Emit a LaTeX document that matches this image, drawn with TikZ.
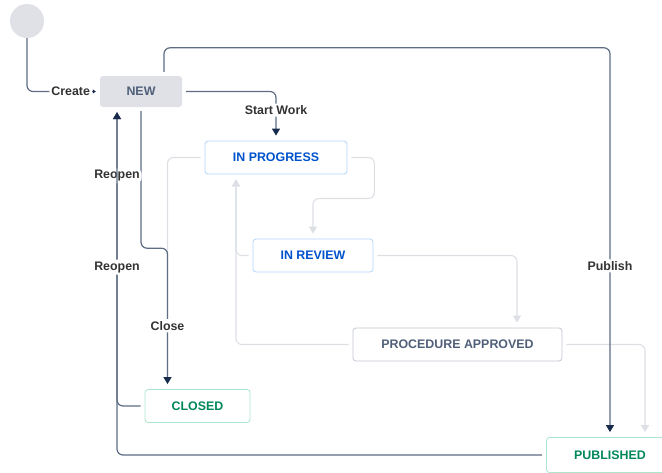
\documentclass[tikz,border=0pt]{standalone}
\usepackage{fontspec}
\setmainfont{Liberation Sans}
\usepackage{xcolor}
\definecolor{navy}{HTML}{172B4D}
\definecolor{slate}{HTML}{5E6C84}
\definecolor{slatetx}{HTML}{505F79}
\definecolor{faded}{HTML}{DCDFE4}
\definecolor{newgray}{HTML}{DFE1E6}
\definecolor{bluebd}{HTML}{B3D4FF}
\definecolor{bluetx}{HTML}{0052CC}
\definecolor{greenbd}{HTML}{ABE5CC}
\definecolor{greentx}{HTML}{00875A}
\definecolor{graybd}{HTML}{C1C7D0}
\definecolor{labeltx}{HTML}{333333}
\usetikzlibrary{arrows.meta,positioning}
\tikzset{
    startnode/.style={
    circle,fill=newgray,minimum size=34pt,inner sep=0pt
    },
    newstate/.style={
    rectangle,rounded corners=3pt,fill=newgray,text=slatetx,minimum width=82pt,minimum height=31pt
    },
    bluestate/.style={
    rectangle,rounded corners=3pt,draw=bluebd,line width=0.8pt,text=bluetx,minimum height=33pt
    },
    greenstate/.style={
    rectangle,rounded corners=3pt,draw=greenbd,line width=0.8pt,text=greentx,minimum height=33pt
    },
    graystate/.style={
    rectangle,rounded corners=3pt,draw=graybd,line width=0.8pt,text=slatetx,minimum height=33pt
    },
  trans/.style={draw=slate, line width=1.2pt, rounded corners=6pt, shorten <=4pt, shorten >=5pt, -{Triangle[width=8pt,length=7pt,color=navy]}},
  ftrans/.style={draw=faded, line width=1.1pt, rounded corners=6pt, shorten <=4pt, shorten >=5pt, -{Triangle[width=8pt,length=7pt,color=faded]}},
  lbl/.style={fill=white, text=labeltx, inner sep=2pt},
}

\begin{document}
\begin{tikzpicture}[x=1pt, y=-1pt, font=\bfseries\fontsize{12.4}{14}\selectfont]
   \useasboundingbox (0,0) rectangle (662,472);

   \node[startnode] (start) at (27,21) {};
   \node[newstate] (new) at (141,91.5) {NEW};
   \node[bluestate, minimum width=142pt] (inprog) at (276,157.5) {IN PROGRESS};
   \node[bluestate, minimum width=120pt] (inreview) at (313,255.5) {IN REVIEW};
   \node[graystate, minimum width=209pt] (proc) at (457.5,344.5) {PROCEDURE APPROVED};
   \node[greenstate, minimum width=105pt] (closed) at (197.5,406) {CLOSED};
   \node[greenstate, minimum width=127pt, minimum height=35pt] (published) at (610,455) {PUBLISHED};

   % faded transitions
   \draw[ftrans] (inprog.east) -| ++(27,41) -| (inreview.north);
   \draw[ftrans] (inreview.west) -| ([xshift=-40pt]inprog.south);
   \draw[ftrans] (proc.west) -| ([xshift=-40pt]inprog.south);
   \draw[ftrans, -] (inprog.west) -| ([xshift=-30pt]closed.north);
   \draw[ftrans] (inreview.east) -| ([xshift=59.5pt]proc.north);
   \draw[ftrans] (proc.east) -| ([xshift=35pt]published.north);

   % active transitions
   \draw[trans, shorten <=0pt, shorten >=4pt, -{Triangle[width=4pt,length=3pt,color=navy]}]
        (start.south) |- (new.west) node[lbl, pos=0.8] {Create};
   \draw[trans] (new.east) -| (inprog.north) node[lbl, pos=0.69] {Start Work};
   \draw[trans] ([xshift=23pt]new.north) -- ++(0,-28) -| (published.north) node[lbl, pos=0.78] {Publish};
   \draw[trans] (new.south) -- ++(0,141) -| ([xshift=-30pt]closed.north) node[lbl, pos=0.775] {Close};
   \draw[trans] (closed.west) -| ([xshift=-24pt]new.south) node[lbl, pos=0.885] {Reopen};
   \draw[trans] (published.west) -| ([xshift=-24pt]new.south) node[lbl, pos=0.77] {Reopen};
  \end{tikzpicture}
\end{document}
